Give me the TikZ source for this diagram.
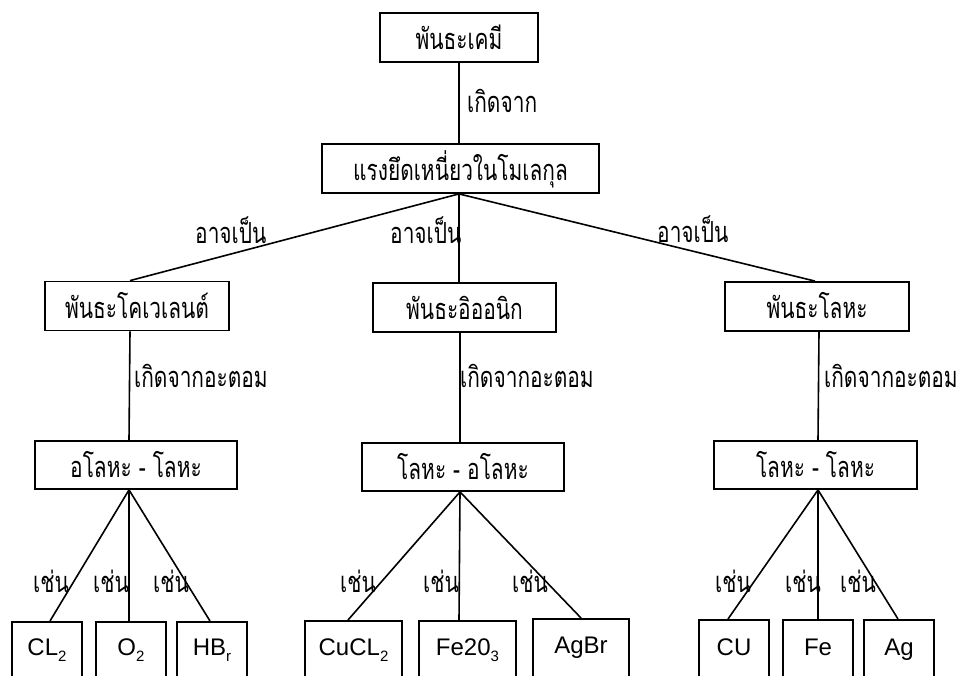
\documentclass[tikz,border=0pt]{standalone}
\usepackage{fontspec}
\setmainfont{Liberation Sans}
\newfontfamily\thai[Script=Thai, FakeStretch=0.72]{Loma}
% lowered, smaller index for formulas
\newcommand\chemidx[1]{\raisebox{-6pt}{\fontsize{15}{15}\selectfont #1}}
\begin{document}
\begin{tikzpicture}[x=1pt,y=-1pt,
  box/.style={draw, line width=1.8pt, inner sep=0pt, text height=24pt, text depth=0pt,
    minimum height=49pt, font=\thai\fontsize{29}{32}\selectfont},
  leaf/.style={draw, line width=1.8pt, inner sep=0pt, anchor=north, minimum height=90pt},
  chem/.style={inner sep=0pt, anchor=base, font=\fontsize{24}{28}\selectfont},
  lbl/.style={inner sep=0pt, anchor=base west, font=\thai\fontsize{29}{32}\selectfont},
  link/.style={line width=1.6pt}]
\useasboundingbox (0,0) rectangle (956,675);
\clip (0,0) rectangle (956,675);
\fill[white] (0,0) rectangle (956,675);

% concept boxes
\node[box, minimum width=158pt] (bond) at (459,37.5) {พันธะเคมี};
\node[box, minimum width=277pt] (force) at (460.5,168.5) {แรงยึดเหนี่ยวในโมเลกุล};
\node[box, minimum width=184pt] (cov) at (137,306) {พันธะโคเวเลนต์};
\node[box, minimum width=183pt] (ion) at (464.5,307.5) {พันธะอิออนิก};
\node[box, minimum width=184pt] (met) at (817,306.5) {พันธะโลหะ};
\node[box, minimum width=202pt, minimum height=48pt] (nm) at (136,465) {อโลหะ - โลหะ};
\node[box, minimum width=202pt, minimum height=48pt] (mn) at (463,467) {โลหะ - อโลหะ};
\node[box, minimum width=203pt, minimum height=48pt] (mm) at (815.5,465) {โลหะ - โลหะ};

% example boxes (running past the lower edge)
\node[leaf, minimum width=70pt] (cl) at (47,621) {};
\node[leaf, minimum width=70pt] (o) at (131,621) {};
\node[leaf, minimum width=70pt] (hb) at (212,621) {};
\node[leaf, minimum width=97pt] (cucl) at (353.5,620) {};
\node[leaf, minimum width=97pt] (fe2) at (467.5,620) {};
\node[leaf, minimum width=96pt] (agbr) at (581,618) {};
\node[leaf, minimum width=70pt] (cu) at (734,619) {};
\node[leaf, minimum width=70pt] (fe) at (818,619) {};
\node[leaf, minimum width=70pt] (ag) at (899,619) {};

\node[chem] (clt) at (47,655) {CL\chemidx{2}};
\node[chem] (ot) at (131,655) {O\chemidx{2}};
\node[chem] (hbt) at (212,655) {HB\chemidx{r}};
\node[chem] (cuclt) at (353.5,655) {CuCL\chemidx{2}};
\node[chem] (fe2t) at (467.5,655) {Fe20\chemidx{3}};
\node[chem] (agbrt) at (581,653) {AgBr};
\node[chem] (cut) at (734,655) {CU};
\node[chem] (fet) at (818,655) {Fe};
\node[chem] (agt) at (899,655) {Ag};

% connectors
\draw[link] (bond.south) -- (force.north -| bond.south);
\draw[link] ([xshift=-1.5pt]force.south) -- ([xshift=-7pt]cov.north);
\draw[link] ([xshift=-1.5pt]force.south) -- ([xshift=-5.5pt]ion.north);
\draw[link] ([xshift=-1.5pt]force.south) -- ([xshift=-2pt]met.north);
\draw[link] ([xshift=-7pt]cov.south) -- ([xshift=-7pt]nm.north);
\draw[link] ([xshift=-4.5pt]ion.south) -- ([xshift=-3pt]mn.north);
\draw[link] ([xshift=2pt]met.south) -- ([xshift=2.5pt]mm.north);
\draw[link] ([xshift=-7pt]nm.south) -- ([xshift=3pt]cl.north);
\draw[link] ([xshift=-7pt]nm.south) -- ([xshift=-2pt]o.north);
\draw[link] ([xshift=-7pt]nm.south) -- ([xshift=-2pt]hb.north);
\draw[link] ([xshift=-3pt]mn.south) -- ([xshift=-5.5pt]cucl.north);
\draw[link] ([xshift=-3pt]mn.south) -- ([xshift=-8.5pt]fe2.north);
\draw[link] ([xshift=-3pt]mn.south) -- (agbr.north);
\draw[link] ([xshift=2.5pt]mm.south) -- ([xshift=-6pt]cu.north);
\draw[link] ([xshift=2.5pt]mm.south) -- (fe.north);
\draw[link] ([xshift=2.5pt]mm.south) -- ([xshift=-1pt]ag.north);

% connector labels
\node[lbl] (l1) at (467,112) {เกิดจาก};
\node[lbl] (l2) at (195,243) {อาจเป็น};
\node[lbl] (l3) at (390,243) {อาจเป็น};
\node[lbl] (l4) at (657,242) {อาจเป็น};
\node[lbl] (l5) at (134,387) {เกิดจากอะตอม};
\node[lbl] (l6) at (460,387) {เกิดจากอะตอม};
\node[lbl] (l7) at (824,387) {เกิดจากอะตอม};
\node[lbl] (e1) at (33,592) {เช่น};
\node[lbl] (e2) at (93,592) {เช่น};
\node[lbl] (e3) at (153,592) {เช่น};
\node[lbl] (e4) at (340,592) {เช่น};
\node[lbl] (e5) at (423,592) {เช่น};
\node[lbl] (e6) at (512,592) {เช่น};
\node[lbl] (e7) at (715,592) {เช่น};
\node[lbl] (e8) at (785,592) {เช่น};
\node[lbl] (e9) at (840,592) {เช่น};
\end{tikzpicture}
\end{document}
